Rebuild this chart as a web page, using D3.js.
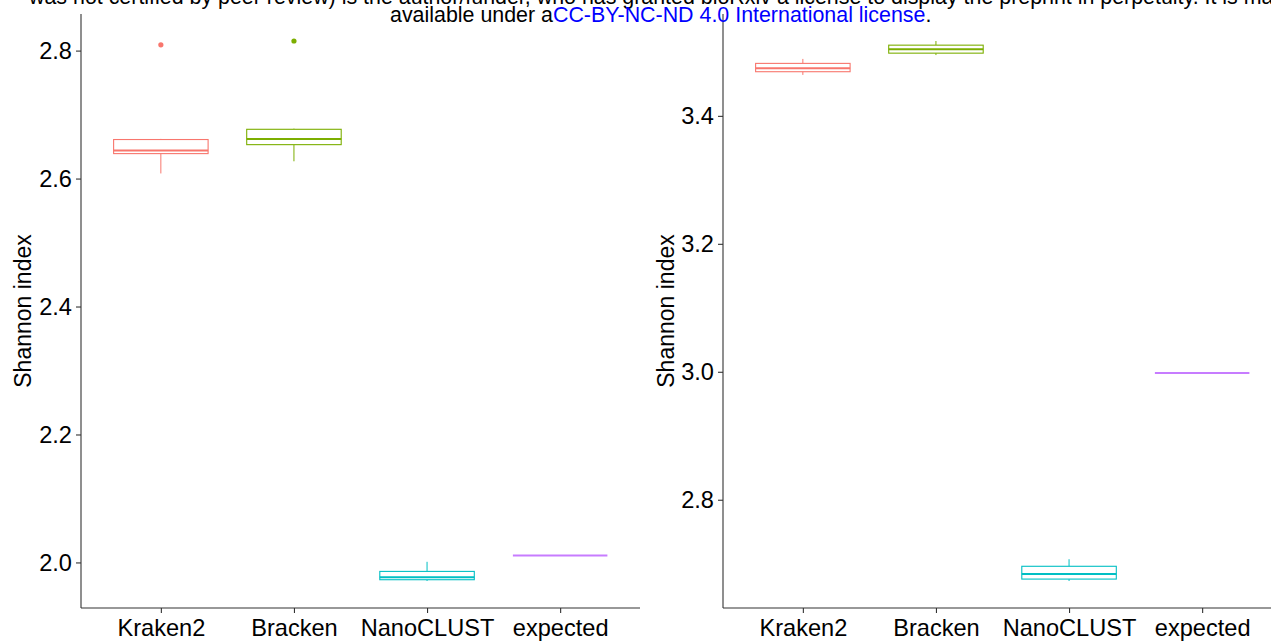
<!DOCTYPE html>
<html>
<head>
<meta charset="utf-8">
<script src="https://cdn.jsdelivr.net/npm/d3@7"></script>
<style>
  body { margin: 0; background: #fff; }
  svg { display: block; font-family: "Liberation Sans", Arial, sans-serif; }
</style>
</head>
<body>
<div id="chart"></div>
<script>
"use strict";
// categories and colours (ggplot default hue palette)
const categories = ["Kraken2", "Bracken", "NanoCLUST", "expected"];
const colours = ["#F8766D", "#7CAE00", "#00BFC4", "#C77CFF"];

// left panel box statistics, one value per category
const leftLow    = [2.608, 2.627, 1.971, 2.011];
const leftQ1     = [2.639, 2.653, 1.973, 2.011];
const leftMedian = [2.644, 2.662, 1.977, 2.011];
const leftQ3     = [2.661, 2.677, 1.986, 2.011];
const leftHigh   = [2.662, 2.678, 2.001, 2.011];
const leftOutliers = [[2.809], [2.815], [], []];
const leftTicks = [2.0, 2.2, 2.4, 2.6, 2.8];

// right panel box statistics
const rightLow    = [3.464, 3.495, 2.673, 2.998];
const rightQ1     = [3.469, 3.498, 2.676, 2.998];
const rightMedian = [3.4745, 3.504, 2.684, 2.998];
const rightQ3     = [3.482, 3.5105, 2.696, 2.998];
const rightHigh   = [3.489, 3.517, 2.707, 2.998];
const rightOutliers = [[], [], [], []];
const rightTicks = [2.8, 3.0, 3.2, 3.4];

const headerLine1 = "was not certified by peer review) is the author/funder, who has granted bioRxiv a license to display the preprint in perpetuity. It is made";
const headerLine2a = "available under a";
const headerLine2b = "CC-BY-NC-ND 4.0 International license";

const W = 1271, H = 641;
const svg = d3.select("#chart").append("svg")
    .attr("width", W).attr("height", H);

function boxPanel(params) {
    const rows = categories.map((c, i) => ({
        cat: c, colour: colours[i],
        low: params.low[i], q1: params.q1[i], med: params.median[i],
        q3: params.q3[i], high: params.high[i], out: params.outliers[i]
    }));
    // y domain from data, expanded 5% like ggplot
    let all = [];
    rows.forEach(r => { all.push(r.low, r.high); all = all.concat(r.out); });
    const ext = d3.extent(all), pad = (ext[1] - ext[0]) * 0.05;

    const x = d3.scalePoint().domain(categories)
        .range([params.x0, params.x1]).padding(0.6);
    const y = d3.scaleLinear().domain([ext[0] - pad, ext[1] + pad])
        .range([params.y1, params.y0]);
    const bw = x.step() * 0.71;

    const g = svg.append("g");

    // axes
    const ya = g.append("g").attr("transform", `translate(${params.x0},0)`)
        .call(d3.axisLeft(y).tickValues(params.ticks).tickFormat(d3.format(".1f"))
            .tickSize(5).tickSizeOuter(0).tickPadding(4));
    const xa = g.append("g").attr("transform", `translate(0,${params.y1})`)
        .call(d3.axisBottom(x).tickSize(5).tickSizeOuter(0).tickPadding(6));
    [ya, xa].forEach(a => {
        a.select(".domain").attr("stroke", "#333").attr("stroke-width", 1.1);
        a.selectAll(".tick line").attr("stroke", "#333").attr("stroke-width", 1.1);
        a.selectAll("text").attr("fill", "#000").style("font-size", "23.6px")
            .style("font-family", "Liberation Sans, Arial, sans-serif");
    });
    // make the axis lines meet at the corner
    ya.select(".domain").attr("d", `M0,${params.y0}V${params.y1}`);
    xa.select(".domain").attr("d", `M${params.x0},0H${params.x1}`);

    // axis title
    g.append("text")
        .attr("transform", `translate(${params.titleX},${(params.y0 + params.y1) / 2}) rotate(-90)`)
        .attr("text-anchor", "middle")
        .style("font-size", "23px")
        .attr("fill", "#000")
        .text("Shannon index");

    // boxes
    const box = g.selectAll(".box").data(rows).enter()
        .append("g").attr("class", "box")
        .attr("transform", d => `translate(${x(d.cat)},0)`);
    box.append("line")
        .attr("x1", 0).attr("x2", 0)
        .attr("y1", d => y(d.high)).attr("y2", d => y(d.q3))
        .attr("stroke", d => d.colour).attr("stroke-width", 1);
    box.append("line")
        .attr("x1", 0).attr("x2", 0)
        .attr("y1", d => y(d.q1)).attr("y2", d => y(d.low))
        .attr("stroke", d => d.colour).attr("stroke-width", 1);
    box.append("rect")
        .attr("x", -bw / 2).attr("width", bw)
        .attr("y", d => y(d.q3))
        .attr("height", d => y(d.q1) - y(d.q3))
        .attr("fill", "#fff").attr("stroke", d => d.colour).attr("stroke-width", 1.1);
    box.append("line")
        .attr("x1", -bw / 2).attr("x2", bw / 2)
        .attr("y1", d => y(d.med)).attr("y2", d => y(d.med))
        .attr("stroke", d => d.colour).attr("stroke-width", 2);
    box.selectAll("circle").data(d => d.out.map(v => ({v: v, colour: d.colour})))
        .join("circle")
        .attr("cx", 0).attr("cy", d => y(d.v)).attr("r", 2.6)
        .attr("fill", d => d.colour);
}

boxPanel({low: leftLow, q1: leftQ1, median: leftMedian, q3: leftQ3, high: leftHigh,
    outliers: leftOutliers, ticks: leftTicks, x0: 81, x1: 640, y0: 14, y1: 608, titleX: 31});
boxPanel({low: rightLow, q1: rightQ1, median: rightMedian, q3: rightQ3, high: rightHigh,
    outliers: rightOutliers, ticks: rightTicks, x0: 723, x1: 1282, y0: 14, y1: 608, titleX: 674});

// preprint header (top line is cut by the page edge, as in the source)
const hdr = svg.append("g").style("font-size", "21.4px");
hdr.append("text").attr("x", 29).attr("y", 4).attr("fill", "#000").text(headerLine1);
const l2 = hdr.append("text").attr("x", 390).attr("y", 22).attr("fill", "#000");
l2.append("tspan").text(headerLine2a);
l2.append("tspan").attr("fill", "#0000ff").text(headerLine2b);
l2.append("tspan").text(".");
</script>
</body>
</html>
